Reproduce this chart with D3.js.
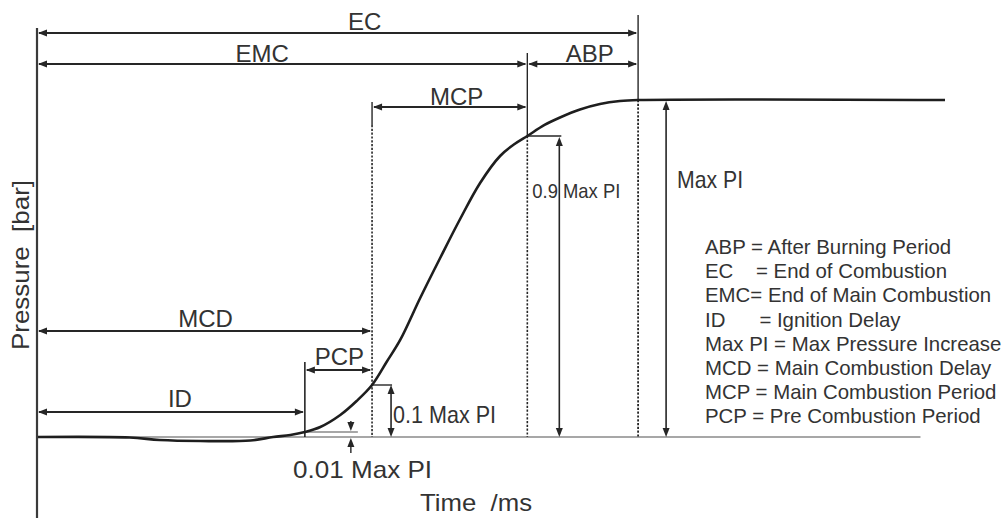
<!DOCTYPE html>
<html>
<head>
<meta charset="utf-8">
<script src="https://cdn.jsdelivr.net/npm/d3@7"></script>
<style>
  html, body { margin: 0; padding: 0; background: #fff; }
  svg { display: block; }
  text { font-family: "Liberation Sans", Arial, sans-serif; fill: #333; white-space: pre; }
</style>
</head>
<body>
<svg id="chart" width="1004" height="518"></svg>
<script>
// Combustion pressure trace: time in ms, pressure as a fraction of Max PI
const timeMs = [0, 1.02, 1.35, 1.80, 2.35, 2.60, 2.79, 2.95, 3.12, 3.34, 3.52, 3.69,
                3.85, 4.00, 4.22, 4.44, 4.66, 4.88, 5.10, 5.26, 5.40, 5.59, 5.76, 5.98,
                6.20, 6.42, 6.62, 10];
const pressure = [0, -0.001, -0.006, -0.008, -0.007, 0, 0.004, 0.01, 0.0196, 0.0426, 0.0694, 0.1,
                  0.1739, 0.2446, 0.3795, 0.508, 0.6333, 0.749, 0.8358, 0.8743, 0.9, 0.9306, 0.9514, 0.9736,
                  0.9889, 0.9972, 1, 1];

// Characteristic instants (ms)
const eventNames = ["ID", "MCD", "EMC", "EC"];
const eventTimes = [2.95, 3.69, 5.40, 6.62];

// Pressure levels marked on the trace (fraction of Max PI)
const levelNames = ["0.01 Max PI", "0.1 Max PI", "0.9 Max PI", "Max PI"];
const levelValues = [0.01, 0.1, 0.9, 1];

// Period spans: label, start event, end event
const spanLabels = ["EC", "EMC", "ABP", "MCP", "MCD", "PCP", "ID"];
const spanStart  = ["start", "start", "EMC", "MCD", "start", "ID", "start"];
const spanEnd    = ["EC", "EMC", "EC", "EMC", "MCD", "MCD", "ID"];

// Abbreviation key
const legendLines = [
  "ABP = After Burning Period",
  "EC    = End of Combustion",
  "EMC= End of Main Combustion",
  "ID      = Ignition Delay",
  "Max PI = Max Pressure Increase",
  "MCD = Main Combustion Delay",
  "MCP = Main Combustion Period",
  "PCP = Pre Combustion Period"
];

const svg = d3.select("#chart");
const ink = "#262626";

const x = d3.scaleLinear().domain([0, 10]).range([37, 945]);
// schematic (non-uniform) pressure axis
const y = d3.scaleLinear().domain([0, 0.01, 0.1, 0.9, 1]).range([437, 432, 385, 136, 100]);

const tOf = name => name === "start" ? 0 : eventTimes[eventNames.indexOf(name)];
const lvl = name => levelValues[levelNames.indexOf(name)];

function head(g, px, py, dir) {
  // dir: direction the tip points
  const L = 9, W = 3.5;
  let d;
  if (dir === "l") d = `M${px},${py}L${px + L},${py - W}L${px + L},${py + W}Z`;
  if (dir === "r") d = `M${px},${py}L${px - L},${py - W}L${px - L},${py + W}Z`;
  if (dir === "u") d = `M${px},${py}L${px - W},${py + L}L${px + W},${py + L}Z`;
  if (dir === "d") d = `M${px},${py}L${px - W},${py - L}L${px + W},${py - L}Z`;
  g.append("path").attr("d", d).attr("fill", ink);
}
function line(g, x1, y1, x2, y2, opts = {}) {
  g.append("line").attr("x1", x1).attr("y1", y1).attr("x2", x2).attr("y2", y2)
    .attr("stroke", opts.color || ink).attr("stroke-width", opts.w || 1.6)
    .attr("stroke-dasharray", opts.dash || null);
}
function label(g, txt, px, py, opts = {}) {
  const t = g.append("text").attr("x", px).attr("y", py)
    .attr("font-size", opts.size || 24)
    .attr("text-anchor", opts.anchor || "start")
    .text(txt);
  if (opts.len) t.attr("textLength", opts.len).attr("lengthAdjust", "spacingAndGlyphs");
  if (opts.transform) t.attr("transform", opts.transform);
  return t;
}

const g = svg.append("g");

// reference baseline and the 1 % level tick
line(g, x(0), y(0), x(9.73), y(0), { color: "#8a8a8a", w: 1.4 });
line(g, x(tOf("ID")), y(lvl("0.01 Max PI")), x(tOf("ID")) + 53, y(lvl("0.01 Max PI")), { color: "#8a8a8a", w: 1.3 });

// event verticals: solid part above, dotted down to the baseline
const dash = "2.2,1.6";
line(g, x(tOf("ID")), 362, x(tOf("ID")), y(0), { w: 1.6 });
line(g, x(tOf("MCD")), 102, x(tOf("MCD")), 125, { w: 1.4 });
line(g, x(tOf("MCD")), 125, x(tOf("MCD")), y(0), { w: 1.6, dash });
line(g, x(tOf("EMC")), 53, x(tOf("EMC")), y(lvl("0.9 Max PI")), { w: 1.4 });
line(g, x(tOf("EMC")), y(lvl("0.9 Max PI")), x(tOf("EMC")), y(0), { w: 1.6, dash });
line(g, x(tOf("EC")), 15, x(tOf("EC")), y(1), { w: 1.4 });
line(g, x(tOf("EC")), y(1), x(tOf("EC")), y(0), { w: 1.8, dash });

// period arrows
const spanRow = { EC: 33, EMC: 64, ABP: 64, MCP: 107, MCD: 331, PCP: 370, ID: 412 };
const spanText = { EC: 30, EMC: 62, ABP: 62, MCP: 105, MCD: 327, PCP: 365, ID: 407 };
const spanShift = { EC: 27, EMC: -20, ABP: 7, MCP: 7, MCD: 1, PCP: 1, ID: 9 };
spanLabels.forEach((s, i) => {
  const x1 = x(tOf(spanStart[i])), x2 = x(tOf(spanEnd[i])), r = spanRow[s];
  line(g, x1 + 2, r, x2 - 2, r, { w: 2 });
  head(g, x1 + 1, r, "l");
  head(g, x2 - 1, r, "r");
  label(g, s, (x1 + x2) / 2 + spanShift[s], spanText[s], { anchor: "middle", size: 24 });
});

// level brackets
function vArrow(px, yTop, yBot) {
  line(g, px, yTop + 3, px, yBot - 3, { w: 1.6 });
  head(g, px, yTop, "u");
  head(g, px, yBot, "d");
}
const xm = x(tOf("MCD")), xe = x(tOf("EMC")), xc = x(tOf("EC")), xi = x(tOf("ID"));
line(g, xm, y(lvl("0.1 Max PI")), xm + 20, y(lvl("0.1 Max PI")), { w: 1.4 });
vArrow(xm + 19, y(lvl("0.1 Max PI")), y(0));
line(g, xe, y(lvl("0.9 Max PI")), xe + 34, y(lvl("0.9 Max PI")), { w: 1.4 });
vArrow(xe + 32, y(lvl("0.9 Max PI")) + 1, y(0));
vArrow(xc + 28, y(1) + 1, y(0));

// 1 % level pointers
const xp = xi + 46;
line(g, xp, 421, xp, y(lvl("0.01 Max PI")) - 6, { w: 1.4 });
head(g, xp, y(lvl("0.01 Max PI")) - 1, "d");
line(g, xp, 453, xp, y(0) + 6, { w: 1.4 });
head(g, xp, y(0) + 1, "u");

// pressure trace
const trace = d3.line().x((d, i) => x(timeMs[i])).y(d => y(d)).curve(d3.curveCatmullRom.alpha(0.5));
g.append("path").datum(pressure).attr("d", trace)
  .attr("fill", "none").attr("stroke", "#1e1e1e").attr("stroke-width", 2.6);

// y axis
line(g, x(0), 28, x(0), 518, { color: "#3a3a3a", w: 2.2 });

// level labels
label(g, "0.01 Max PI", 293, 478, { len: 139 });
label(g, "0.1 Max PI", xm + 21, 423, { len: 103 });
label(g, "0.9 Max PI", xe + 5, 198, { size: 21, len: 88 });
label(g, "Max PI", xc + 39, 188, { len: 66 });

// axis titles
label(g, "Time  /ms", 420, 511, { len: 112 });
label(g, "Pressure  [bar]", 0, 0, { anchor: "middle", len: 170, transform: "translate(29,265) rotate(-90)" });

// abbreviation key
const key = g.append("text").attr("font-size", 20.4);
legendLines.forEach((s, i) => {
  key.append("tspan").attr("x", 705).attr("y", 254 + i * 24.2).text(s);
});
</script>
</body>
</html>
